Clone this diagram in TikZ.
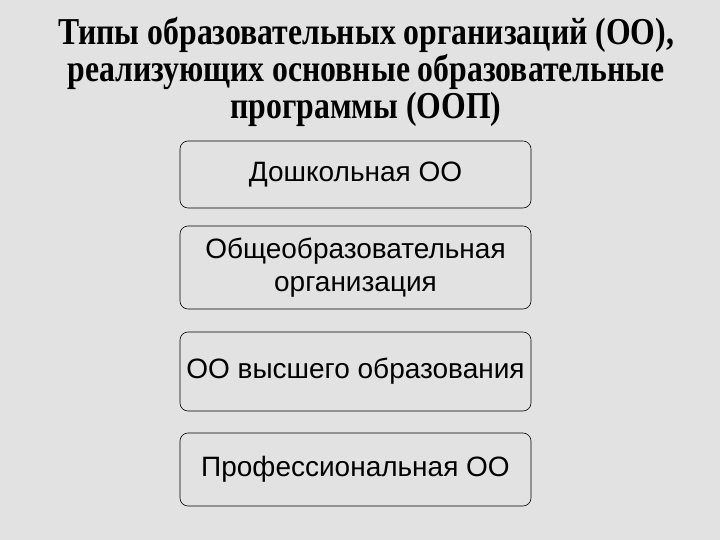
\documentclass[tikz,border=0pt]{standalone}
\usepackage{fontspec}
\setmainfont{Liberation Serif}
\setsansfont{Liberation Sans}
\definecolor{slidebg}{RGB}{226,226,226}
\tikzset{
  typbox/.style={draw=black, line width=0.6pt, rounded corners=8pt, minimum width=351pt,
    align=center, inner sep=0pt, font=\sffamily\fontsize{28}{33}\selectfont},
  titletext/.style={align=center, inner sep=0pt,
    font=\bfseries\fontsize{38}{37}\selectfont}
}
\newcommand{\narrowline}[1]{\scalebox{0.835}[1]{#1}}
\begin{document}
\begin{tikzpicture}[x=1pt,y=1pt]

\fill [slidebg] (0,0) rectangle (720,540);
\useasboundingbox (0,0) rectangle (720,540);

% title
\node [titletext] (title) at (366,468.5) {\narrowline{Типы образовательных организаций (ОО),}\\
\narrowline{реализующих основные образовательные}\\
\narrowline{программы (ООП)}};

% types
\node [typbox, minimum height=67pt] (doshk) at (355.5,365.5) {Дошкольная ОО};
\node [typbox, minimum height=83pt] (obshch) at (355.5,272.5) {Общеобразовательная\\организация};
\node [typbox, minimum height=79pt] (vyssh) at (355.5,168.5) {ОО высшего образования};
\node [typbox, minimum height=73pt] (prof) at (355.5,70.5) {Профессиональная ОО};

\end{tikzpicture}
\end{document}
